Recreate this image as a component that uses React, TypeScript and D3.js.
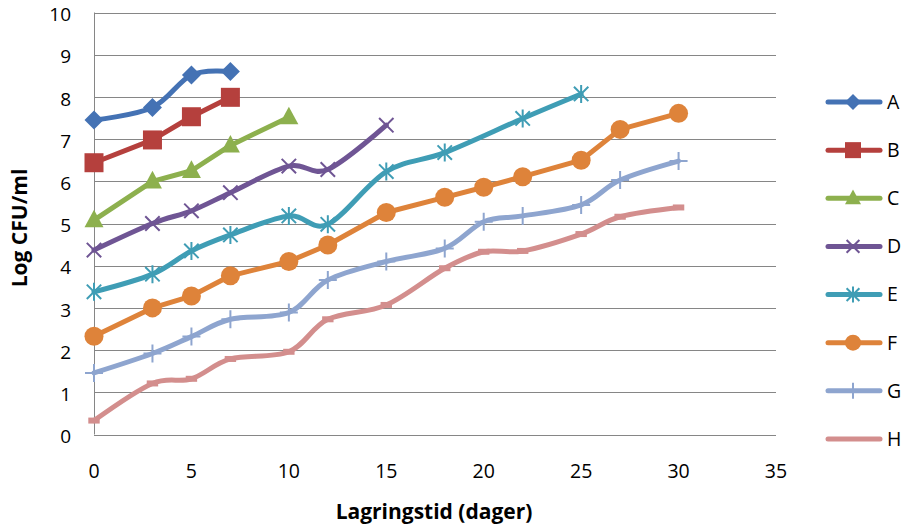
import React from 'react';
import * as d3 from 'd3';

const seriesNames = ['A', 'B', 'C', 'D', 'E', 'F', 'G', 'H'];
const colors = ['#4472B4', '#B5403D', '#8DB04E', '#6F5594', '#3F9DB5', '#DE833A', '#8EA5CF', '#D38E8D'];
const markers = ['diamond', 'square', 'triangle', 'cross', 'star', 'circle', 'plus', 'dash'];
const smooth = [true, false, false, true, true, false, true, true];

const daysA = [0, 3, 5, 7];
const valuesA = [7.45, 7.75, 8.52, 8.6];
const daysB = [0, 3, 5, 7];
const valuesB = [6.44, 6.98, 7.53, 7.99];
const daysC = [0, 3, 5, 7, 10];
const valuesC = [5.08, 6.0, 6.25, 6.85, 7.52];
const daysD = [0, 3, 5, 7, 10, 12, 15];
const valuesD = [4.37, 5.0, 5.3, 5.73, 6.36, 6.28, 7.33];
const daysE = [0, 3, 5, 7, 10, 12, 15, 18, 22, 25];
const valuesE = [3.38, 3.8, 4.35, 4.73, 5.18, 4.98, 6.23, 6.68, 7.49, 8.07];
const daysFGH = [0, 3, 5, 7, 10, 12, 15, 18, 20, 22, 25, 27, 30];
const valuesF = [2.33, 3.0, 3.28, 3.76, 4.1, 4.49, 5.26, 5.62, 5.86, 6.11, 6.5, 7.23, 7.61];
const valuesG = [1.46, 1.92, 2.32, 2.73, 2.89, 3.66, 4.1, 4.41, 5.04, 5.18, 5.44, 6.03, 6.48];
const valuesH = [0.33, 1.21, 1.32, 1.79, 1.96, 2.73, 3.07, 3.94, 4.33, 4.35, 4.75, 5.16, 5.38];

const xTicks = [0, 5, 10, 15, 20, 25, 30, 35];
const yTicks = [0, 1, 2, 3, 4, 5, 6, 7, 8, 9, 10];

const allDays = [daysA, daysB, daysC, daysD, daysE, daysFGH, daysFGH, daysFGH];
const allValues = [valuesA, valuesB, valuesC, valuesD, valuesE, valuesF, valuesG, valuesH];

const FONT = 'Open Sans, Lato, sans-serif';

function Marker({ type, x, y, color, s }: { type: string; x: number; y: number; color: string; s: number }) {
  switch (type) {
    case 'diamond':
      return <path d={`M${x},${y - s}L${x + s},${y}L${x},${y + s}L${x - s},${y}Z`} fill={color} />;
    case 'square':
      return <rect x={x - s} y={y - s} width={2 * s} height={2 * s} fill={color} />;
    case 'triangle':
      return <path d={`M${x},${y - s * 1.1}L${x + s},${y + s * 0.75}L${x - s},${y + s * 0.75}Z`} fill={color} />;
    case 'circle':
      return <circle cx={x} cy={y} r={s} fill={color} />;
    case 'cross': {
      const k = s * 0.8;
      return <path d={`M${x - k},${y - k}L${x + k},${y + k}M${x + k},${y - k}L${x - k},${y + k}`} stroke={color} strokeWidth={2} />;
    }
    case 'star': {
      const k = s * 0.8;
      return (
        <path
          d={`M${x - k},${y - k}L${x + k},${y + k}M${x + k},${y - k}L${x - k},${y + k}M${x},${y - s}L${x},${y + s}`}
          stroke={color}
          strokeWidth={2}
        />
      );
    }
    case 'plus':
      return <path d={`M${x - s},${y}L${x + s},${y}M${x},${y - s}L${x},${y + s}`} stroke={color} strokeWidth={2} />;
    case 'dash':
      return <rect x={x - s * 0.6} y={y - 3} width={s * 1.2} height={6} fill={color} />;
    default:
      return null;
  }
}

export default function App() {
  const width = 906;
  const height = 524;
  const x = d3.scaleLinear().domain([0, 35]).range([94, 776]);
  const y = d3.scaleLinear().domain([0, 10]).range([434.5, 12.5]);

  const legendY = d3.scaleLinear().domain([0, 7]).range([102, 439]);

  return (
    <svg width={width} height={height} style={{ position: 'absolute', left: 0, top: 0, background: '#fff' }}>
      {/* grid */}
      {yTicks.map(t => (
        <line key={'g' + t} x1={x(0)} x2={x(35)} y1={Math.round(y(t)) + 0.5} y2={Math.round(y(t)) + 0.5} stroke="#868686" strokeWidth={1} />
      ))}
      <line x1={x(0) + 0.5} x2={x(0) + 0.5} y1={y(10)} y2={y(0)} stroke="#868686" strokeWidth={1} />

      {/* y labels */}
      {yTicks.map(t => (
        <text key={'yl' + t} x={71} y={y(t) + 2} dy="0.35em" textAnchor="end" fontFamily={FONT} fontSize={19} fill="#000">
          {t}
        </text>
      ))}
      {/* x labels */}
      {xTicks.map(t => (
        <text key={'xl' + t} x={x(t)} y={471} dy="0.35em" textAnchor="middle" fontFamily={FONT} fontSize={19.5} fill="#000">
          {t}
        </text>
      ))}

      <text x={434} y={512} dy="0.35em" textAnchor="middle" fontFamily={FONT} fontSize={21} fontWeight="bold">
        Lagringstid (dager)
      </text>
      <text transform="translate(20,228) rotate(-90)" dy="0.35em" textAnchor="middle" fontFamily={FONT} fontSize={21} fontWeight="bold">
        Log CFU/ml
      </text>

      {/* series, drawn last-to-first so A is on top */}
      {seriesNames
        .map((name, i) => i)
        .reverse()
        .map(i => {
          const pts: [number, number][] = allDays[i].map((d, j) => [x(d), y(allValues[i][j])]);
          const line = d3.line().curve(smooth[i] ? d3.curveCardinal.tension(0) : d3.curveLinear);
          return (
            <g key={'s' + i}>
              <path d={line(pts) || ''} fill="none" stroke={colors[i]} strokeWidth={5} strokeLinejoin="round" strokeLinecap="round" />
              {pts.map((p, j) => (
                <Marker key={j} type={markers[i]} x={p[0]} y={p[1]} color={colors[i]} s={markers[i] === 'cross' || markers[i] === 'star' || markers[i] === 'plus' ? 9 : 9.5} />
              ))}
            </g>
          );
        })}

      {/* legend */}
      {seriesNames.map((name, i) => {
        const ly = legendY(i);
        return (
          <g key={'lg' + i}>
            <line x1={828} x2={880} y1={ly} y2={ly} stroke={colors[i]} strokeWidth={5} strokeLinecap="round" />
            <Marker type={markers[i]} x={853} y={ly} color={colors[i]} s={markers[i] === 'dash' ? 0 : 8} />
            <text x={887} y={ly} dy="0.35em" fontFamily={FONT} fontSize={19.5} fill="#000">
              {name}
            </text>
          </g>
        );
      })}
    </svg>
  );
}
